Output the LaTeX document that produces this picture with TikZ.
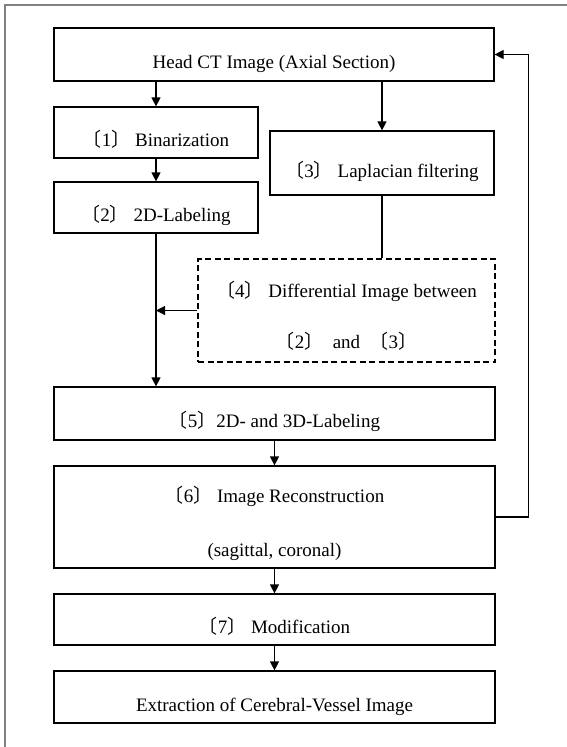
\documentclass[tikz,border=0pt]{standalone}
\usepackage{fontspec}
\setmainfont{Liberation Serif}
\newfontfamily\cjk{Noto Sans CJK SC}
\usetikzlibrary{positioning, arrows.meta}
\tikzset{
    proc_node/.style={rectangle, draw=black, line width=1.2pt, text centered, align=center, inner sep=0pt, text height=28pt, text depth=0pt},
    diff_node/.style={proc_node, dash pattern=on 6pt off 3.5pt},
    arrow/.style={line width=1.2pt, -{Triangle[length=9pt,width=9pt]}},
    line/.style={line width=1.2pt},
    frame_line/.style={line width=1.2pt, draw=gray},
}
\newcommand{\stepnum}[1]{{\cjk 〔}#1{\cjk 〕}}

\begin{document}
\begin{tikzpicture}[x=1pt, y=-1pt, font=\fontsize{19}{20}\selectfont]
      \useasboundingbox (0,0) rectangle (567,747);
      \draw [frame_line] (5,747) -- (5,5) -- (567,5);

      \node (head) [proc_node, minimum width=440pt, minimum height=53pt] at (274,54.5) {Head CT Image (Axial Section)};
      \node (bin) [proc_node, minimum width=204pt, minimum height=51pt] at (156,132.5) {\stepnum{1} Binarization};
      \node (lab2d) [proc_node, minimum width=204pt, minimum height=51pt] at (156,207.5) {\stepnum{2} 2D-Labeling};
      \node (lap) [proc_node, minimum width=224pt, minimum height=64pt] at (382,163) {\stepnum{3} Laplacian filtering};
      \node (diff) [diff_node, minimum width=297pt, minimum height=103pt, text height=75pt] at (346.5,310.5) {\stepnum{4} Differential Image between\\[29pt]\stepnum{2}\ \ and \ \stepnum{3}};

      \node (lab3d) [proc_node, minimum width=441pt, minimum height=53pt] at (274.5,413.5) {\stepnum{5}2D- and 3D-Labeling};
      \node (recon) [proc_node, minimum width=441pt, minimum height=102pt, text height=79pt] at (274.5,517) {\stepnum{6} Image Reconstruction\\[34pt](sagittal, coronal)};
      \node (modif) [proc_node, minimum width=441pt, minimum height=51pt] at (274.5,619.5) {\stepnum{7} Modification};
      \node (extract) [proc_node, minimum width=441pt, minimum height=52pt] at (274.5,697) {Extraction of Cerebral-Vessel Image};

      \coordinate (join) at (lab2d |- diff.west);

      \draw [arrow] (head.south -| bin) -- (bin);
      \draw [arrow] (bin) -- (lab2d);
      \draw [arrow] (head.south -| lap) -- (lap);
      \draw [line] (lap) -- (lap |- diff.north);
      \draw [arrow] (lab2d) -- (lab2d |- lab3d.north);
      \draw [arrow] (diff.west) -- (join);

      \draw [arrow] (lab3d) -- (recon);
      \draw [arrow] (recon) -- (modif);
      \draw [arrow] (modif) -- (extract);
      \draw [arrow] (recon.east) -- ++(33,0) |- (head.east);
   \end{tikzpicture}
\end{document}
